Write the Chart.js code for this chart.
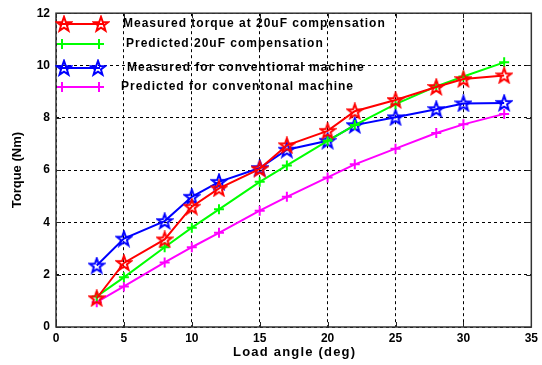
<!DOCTYPE html>
<html><head><meta charset="utf-8">
<script src="https://cdn.jsdelivr.net/npm/chart.js@4/dist/chart.umd.min.js"></script>
<style>html,body{margin:0;padding:0;background:#fff}#wrap{width:542px;height:365px}</style>
</head><body><div id="wrap"><canvas id="c" width="542" height="365"></canvas></div>
<script>
const loadAngles = [3, 5, 8, 10, 12, 15, 17, 20, 22, 25, 28, 30, 33];
const measured20uF = [1.1, 2.45, 3.35, 4.6, 5.3, 6.05, 6.95, 7.5, 8.25, 8.68, 9.18, 9.48, 9.62];
const predicted20uF = [1.17, 1.9, 3.05, 3.8, 4.5, 5.55, 6.18, 7.12, 7.72, 8.52, 9.2, 9.58, 10.12];
const measuredConv = [2.35, 3.38, 4.05, 4.98, 5.55, 6.08, 6.78, 7.12, 7.72, 8.02, 8.33, 8.55, 8.57];
const predictedConv = [0.95, 1.55, 2.47, 3.05, 3.6, 4.45, 4.98, 5.72, 6.22, 6.82, 7.42, 7.75, 8.15];
const seriesLabels = [
  'Measured torque at 20uF compensation',
  'Predicted 20uF compensation',
  'Measured for conventional machine',
  'Predicted for conventonal machine'
];
const xTitle = 'Load angle (deg)';
const yTitle = 'Torque (Nm)';

function starImg(color){
  const c = document.createElement('canvas');
  c.width = 18; c.height = 18;
  const g = c.getContext('2d');
  g.strokeStyle = color; g.lineWidth = 2; g.lineJoin = 'miter';
  g.beginPath();
  const cx = 9, cy = 9.5, R = 7.6, r = 3.1;
  for (let i = 0; i < 10; i++){
    const a = -Math.PI/2 + i*Math.PI/5;
    const rr = i % 2 === 0 ? R : r;
    const px = cx + rr*Math.cos(a), py = cy + rr*Math.sin(a);
    i === 0 ? g.moveTo(px, py) : g.lineTo(px, py);
  }
  g.closePath(); g.stroke();
  return c;
}
const redStar = starImg('#ff0000');
const blueStar = starImg('#0000ff');

function pts(arr){ return arr.map((v,i)=>({x: loadAngles[i], y: v})); }

const FONT = "'Liberation Sans', Arial, sans-serif";

const legendRows = [
  {y: 24, x0: 60, x1: 104, m0: 64, m1: 101, tx: 123},
  {y: 44, x0: 58, x1: 102, m0: 62, m1: 99, tx: 126},
  {y: 68, x0: 60, x1: 100, m0: 64, m1: 98, tx: 127},
  {y: 87, x0: 58, x1: 102, m0: 62, m1: 99, tx: 121}
];

const plotFrame = {
  id: 'plotFrame',
  afterDatasetsDraw(chart){
    const {ctx, chartArea: a} = chart;
    ctx.save();
    // inner tick marks
    ctx.strokeStyle = '#222'; ctx.lineWidth = 1;
    const xs = chart.scales.x, ys = chart.scales.y;
    ctx.beginPath();
    xs.ticks.forEach(t => { const px = Math.round(xs.getPixelForValue(t.value)) + 0.5;
      ctx.moveTo(px, a.bottom); ctx.lineTo(px, a.bottom - 5);
      ctx.moveTo(px, a.top); ctx.lineTo(px, a.top + 5); });
    ys.ticks.forEach(t => { const py = Math.round(ys.getPixelForValue(t.value)) + 0.5;
      ctx.moveTo(a.left, py); ctx.lineTo(a.left + 5, py);
      ctx.moveTo(a.right, py); ctx.lineTo(a.right - 5, py); });
    ctx.stroke();
    ctx.strokeStyle = '#333'; ctx.lineWidth = 1.5;
    ctx.strokeRect(a.left, a.top, a.right - a.left, a.bottom - a.top);
    // x axis title
    ctx.fillStyle = '#000';
    ctx.font = 'bold 13px ' + FONT;
    ctx.letterSpacing = '1.2px';
    ctx.textBaseline = 'middle'; ctx.textAlign = 'center';
    ctx.fillText(xTitle, (a.left + a.right) / 2 + 1, 352);
    // legend
    chart.data.datasets.forEach((ds, i) => {
      const r = legendRows[i];
      ctx.strokeStyle = ds.borderColor; ctx.lineWidth = 2;
      ctx.beginPath(); ctx.moveTo(r.x0, r.y); ctx.lineTo(r.x1, r.y); ctx.stroke();
      [r.m0, r.m1].forEach(mx => {
        if (ds.pointStyle instanceof HTMLCanvasElement){
          ctx.drawImage(ds.pointStyle, mx - 9, r.y - 9);
        } else {
          ctx.beginPath(); ctx.lineWidth = 2;
          ctx.moveTo(mx - 5, r.y); ctx.lineTo(mx + 5, r.y);
          ctx.moveTo(mx, r.y - 5); ctx.lineTo(mx, r.y + 5); ctx.stroke();
        }
      });
      ctx.fillStyle = '#000';
      ctx.font = 'bold 12px ' + FONT;
      ctx.letterSpacing = '1px';
      ctx.textBaseline = 'middle'; ctx.textAlign = 'left';
      ctx.fillText(ds.label, r.tx, r.y);
    });
    ctx.letterSpacing = '0px';
    ctx.restore();
  }
};

new Chart(document.getElementById('c'), {
  type: 'line',
  data: {
    datasets: [
      {label: seriesLabels[0], data: pts(measured20uF), borderColor: '#ff0000', backgroundColor: '#ff0000', pointStyle: redStar, borderWidth: 2},
      {label: seriesLabels[1], data: pts(predicted20uF), borderColor: '#00ff00', backgroundColor: '#00ff00', pointStyle: 'cross', pointRadius: 5, pointBorderWidth: 2, borderWidth: 2},
      {label: seriesLabels[2], data: pts(measuredConv), borderColor: '#0000ff', backgroundColor: '#0000ff', pointStyle: blueStar, borderWidth: 2},
      {label: seriesLabels[3], data: pts(predictedConv), borderColor: '#ff00ff', backgroundColor: '#ff00ff', pointStyle: 'cross', pointRadius: 5, pointBorderWidth: 2, borderWidth: 2}
    ]
  },
  options: {
    responsive: false,
    animation: false,
    devicePixelRatio: 1,
    layout: {padding: {top: 8, right: 6, left: 0, bottom: 0}},
    elements: {line: {tension: 0}},
    plugins: {legend: {display: false}, tooltip: {enabled: false}},
    scales: {
      x: {
        type: 'linear', min: 0, max: 35,
        afterFit: s => { s.height = 38; },
        ticks: {stepSize: 5, color: '#000', padding: 4, font: {family: FONT, size: 12, weight: 'bold'}},
        grid: {color: '#000', lineWidth: 1, drawTicks: false},
        border: {display: false, dash: [3, 3]},
        title: {display: false}
      },
      y: {
        min: 0, max: 12,
        afterFit: s => { s.width = 56; },
        ticks: {stepSize: 2, color: '#000', padding: 6, font: {family: FONT, size: 12, weight: 'bold'}},
        grid: {color: '#000', lineWidth: 1, drawTicks: false},
        border: {display: false, dash: [3, 3]},
        title: {display: true, text: yTitle, color: '#000', font: {family: FONT, size: 13, weight: 'bold'}, padding: {top: 10, bottom: 0}}
      }
    }
  },
  plugins: [plotFrame]
});
</script></body></html>
